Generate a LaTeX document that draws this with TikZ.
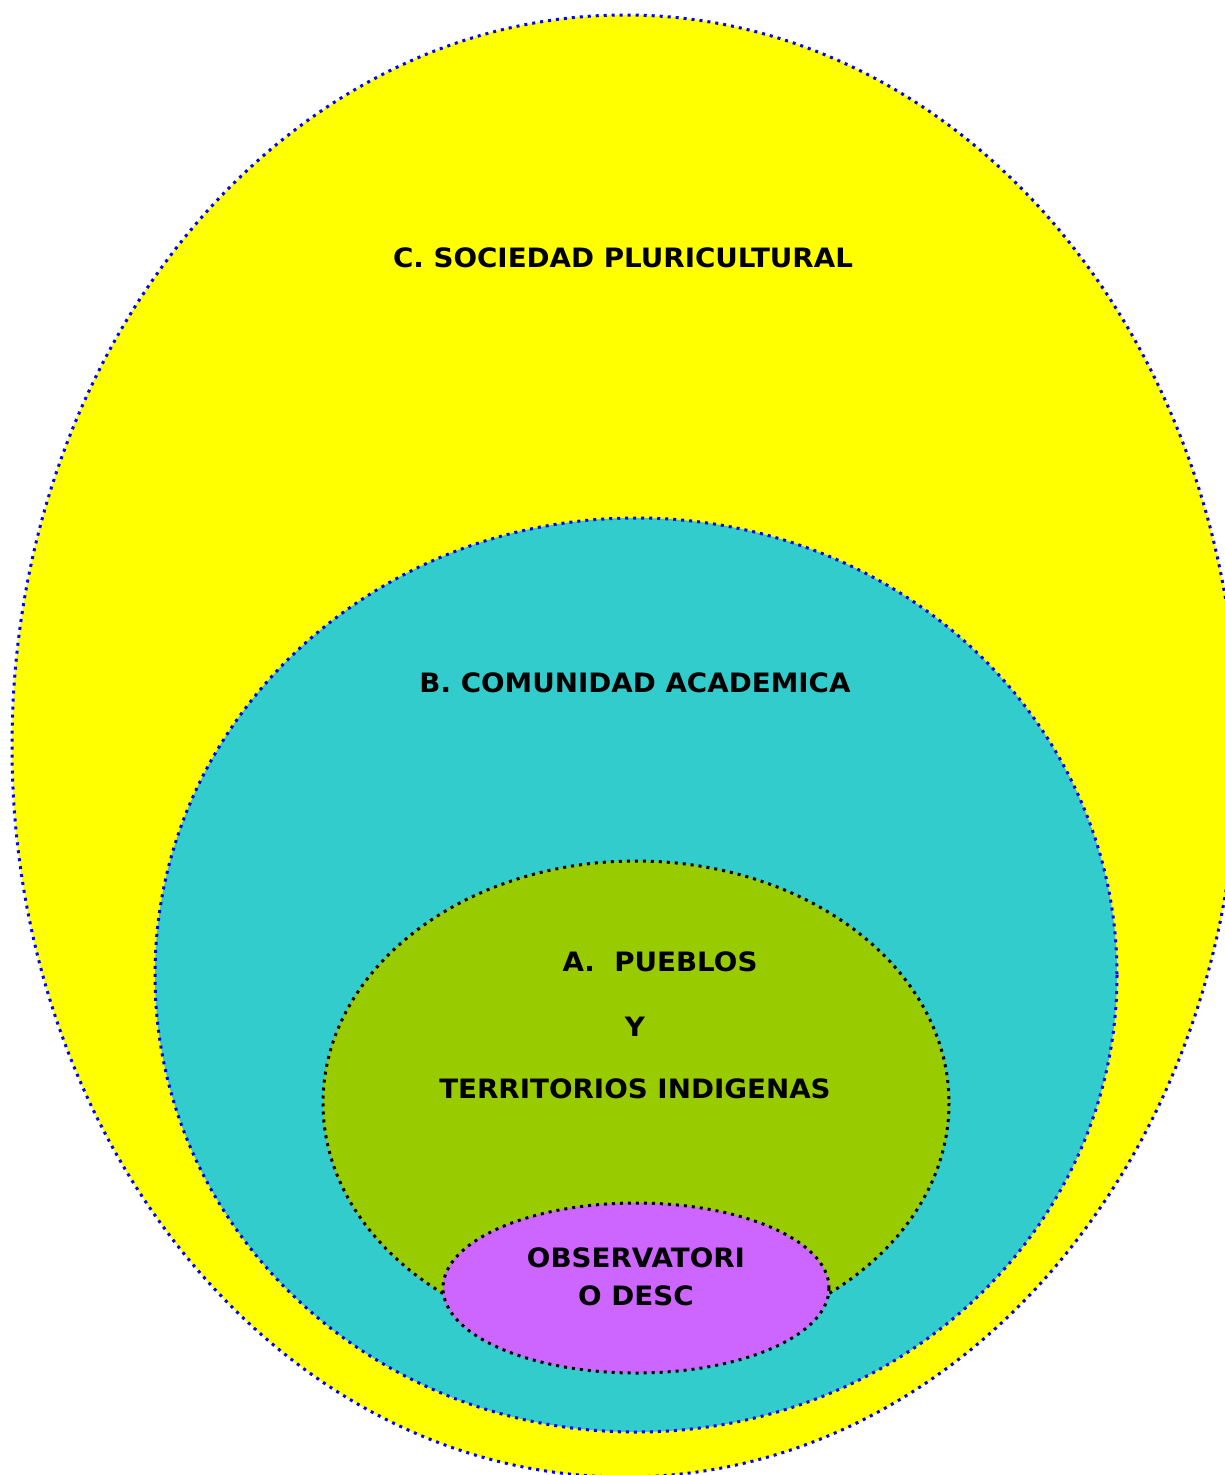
\documentclass[tikz,border=0pt]{standalone}
\usepackage{fontspec}
\setmainfont[FakeStretch=1.04]{DejaVu Sans}
\definecolor{sociedad}{HTML}{FFFF00}
\definecolor{academia}{HTML}{33CCCC}
\definecolor{pueblos}{HTML}{99CC00}
\definecolor{observa}{HTML}{CC66FF}
\begin{document}
\begin{tikzpicture}[x=0.75pt,y=-0.75pt,
		ring/.style={line width=2.25pt,dash pattern=on 2.25pt off 3.75pt,line cap=butt},
		lbl/.style={anchor=base,inner sep=0pt,font=\bfseries\fontsize{20}{24}\selectfont}]
	\clip (0,0) rectangle (1225,1475);
	% circulos
	\filldraw[ring,fill=sociedad,draw=blue] (625,746) ellipse [x radius=613,y radius=731];
	\filldraw[ring,fill=academia,draw=blue] (636,975) ellipse [x radius=481,y radius=457];
	\filldraw[ring,fill=pueblos,draw=black] (636,1103) ellipse [x radius=313,y radius=242];
	\filldraw[ring,fill=observa,draw=black] (636,1288) ellipse [x radius=193,y radius=85];
	% textos
	\node[lbl] (soc) at (623,267) {C. SOCIEDAD PLURICULTURAL};
	\node[lbl] (acad) at (635,692) {B. COMUNIDAD ACADEMICA};
	\node[lbl] (pue) at (660,971) {A.\ \ PUEBLOS};
	\node[lbl] (y) at (635,1036) {Y};
	\node[lbl] (terr) at (635,1098) {TERRITORIOS INDIGENAS};
	\node[lbl] (obs1) at (636,1267) {OBSERVATORI};
	\node[lbl] (obs2) at (636,1305) {O DESC};
\end{tikzpicture}
\end{document}
